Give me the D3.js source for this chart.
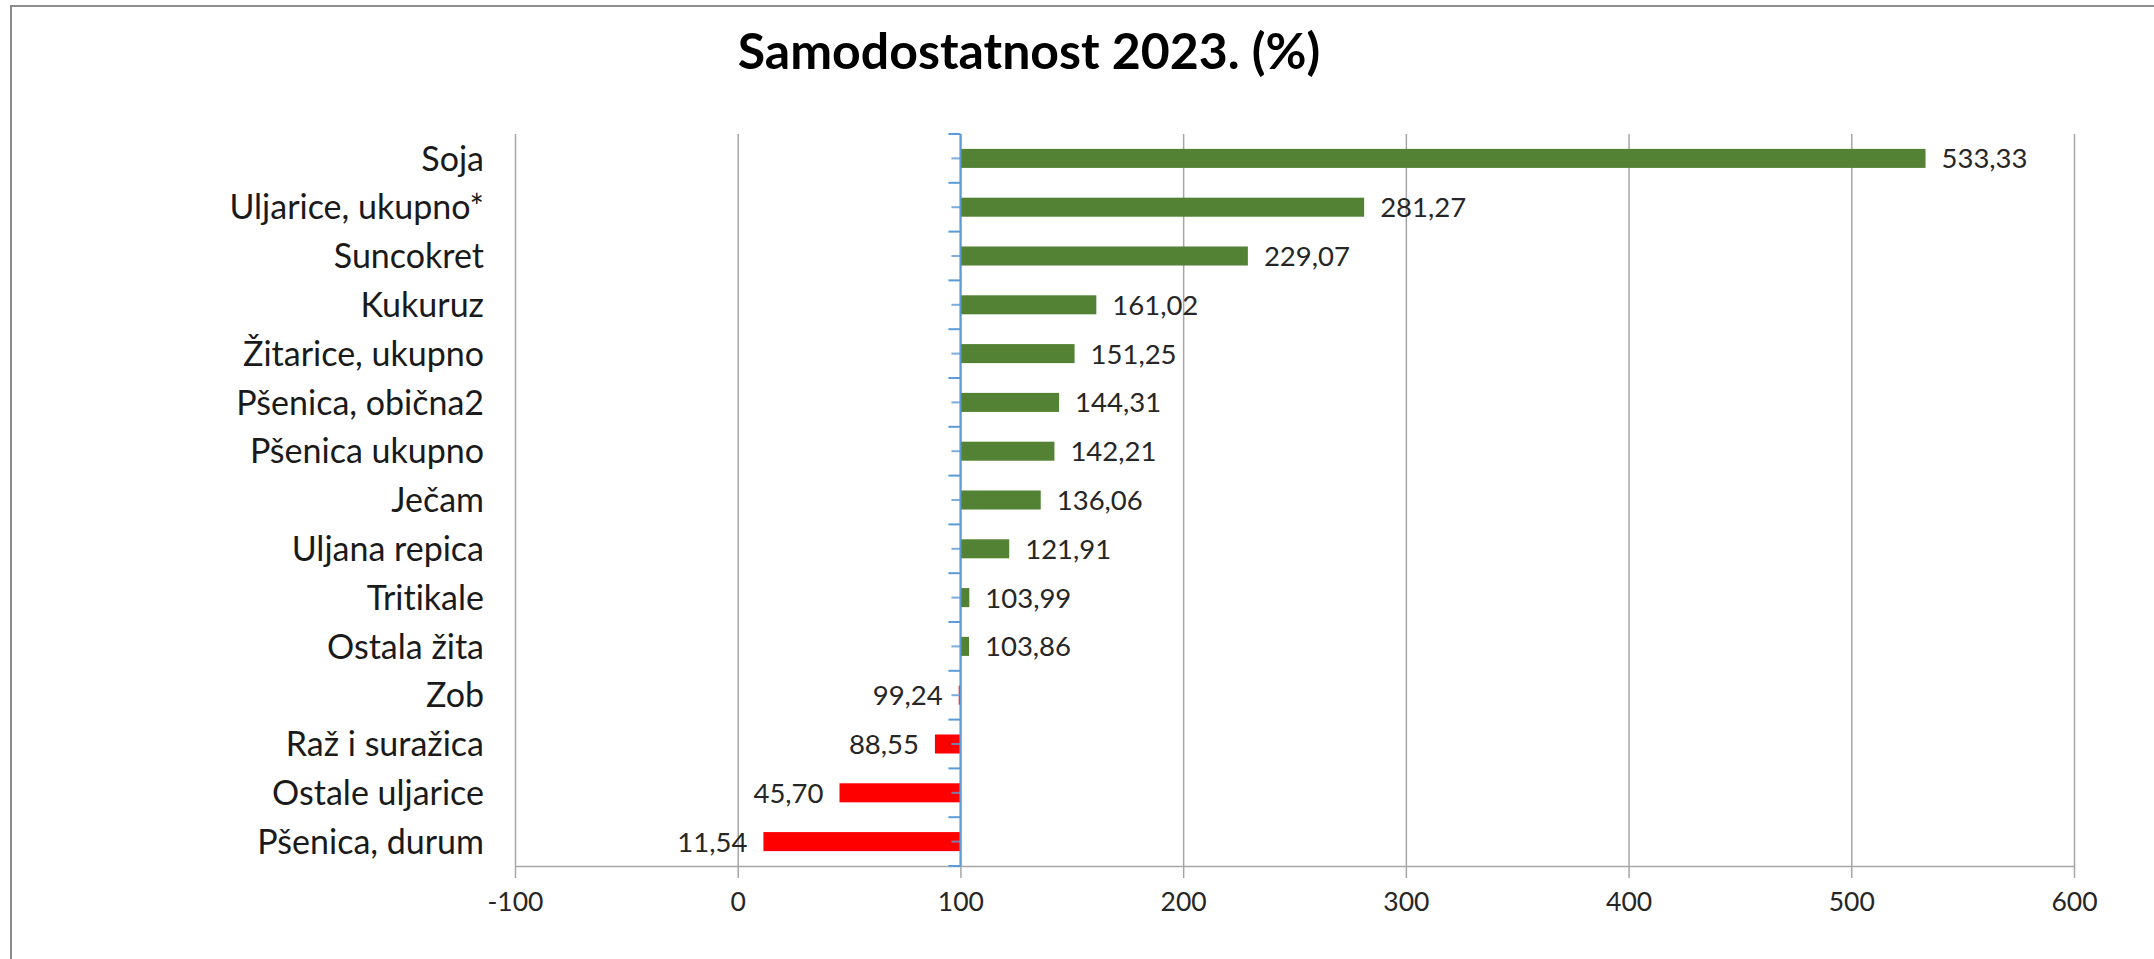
<!DOCTYPE html>
<meta charset="utf-8">
<style>
body { margin: 0; background: #fff; }
svg { display: block; }
svg text { font-family: Lato, sans-serif; font-variant-ligatures: none; }
.grid line { stroke: #a6a6a6; stroke-width: 1.5px; }
.grid path { display: none; }
.axis--x path, .axis--x line { stroke: #a6a6a6; stroke-width: 1.5px; }
.axis--x text { font-size: 26.5px; fill: #262626; }
.cat { font-size: 34px; fill: #1a1a1a; }
.val { font-size: 27.5px; fill: #262626; }
</style>
<svg width="2154" height="959"></svg>
<script src="https://cdnjs.cloudflare.com/ajax/libs/d3/7.8.5/d3.min.js"></script>
<script>

// categories top to bottom
var categories = ["Soja", "Uljarice, ukupno*", "Suncokret", "Kukuruz", "Žitarice, ukupno",
  "Pšenica, obična2", "Pšenica ukupno", "Ječam", "Uljana repica", "Tritikale",
  "Ostala žita", "Zob", "Raž i suražica", "Ostale uljarice", "Pšenica, durum"];
var values = [533.33, 281.27, 229.07, 161.02, 151.25, 144.31, 142.21, 136.06, 121.91,
  103.99, 103.86, 99.24, 88.55, 45.70, 11.54];
var labels = ["533,33", "281,27", "229,07", "161,02", "151,25", "144,31", "142,21", "136,06",
  "121,91", "103,99", "103,86", "99,24", "88,55", "45,70", "11,54"];
var xTicks = [-100, 0, 100, 200, 300, 400, 500, 600];
var baseline = 100;

var svg = d3.select("svg"),
    plotLeft = 515, plotRight = 2074, plotTop = 134, plotBottom = 866;

// outer chart frame (runs past the right and bottom edge)
svg.append("rect")
    .attr("x", 11).attr("y", 6)
    .attr("width", 2200).attr("height", 1000)
    .attr("fill", "none")
    .attr("stroke", "#8c8c8c")
    .attr("stroke-width", 2);

var x = d3.scaleLinear().domain([-100, 600]).range([plotLeft, plotRight]);
var y = d3.scaleBand().domain(categories).range([plotTop, plotBottom])
    .paddingInner(0.61).paddingOuter(0.305);

// vertical gridlines
svg.append("g")
    .attr("class", "grid")
    .attr("transform", "translate(0," + plotTop + ")")
    .call(d3.axisBottom(x).tickValues(xTicks).tickSize(plotBottom - plotTop).tickFormat(""));

// x axis
svg.append("g")
    .attr("class", "axis axis--x")
    .attr("transform", "translate(0," + plotBottom + ")")
    .call(d3.axisBottom(x).tickValues(xTicks).tickSize(12).tickSizeOuter(0).tickPadding(14)
      .tickFormat(function(d) { return String(d); }))
    .selectAll("text").attr("dy", "0.71em");

// bars from the 100 baseline
var data = categories.map(function(c, i) { return {cat: c, v: values[i], label: labels[i]}; });

svg.selectAll(".bar")
    .data(data)
  .enter().append("rect")
    .attr("class", "bar")
    .attr("x", function(d) { return x(Math.min(d.v, baseline)); })
    .attr("y", function(d) { return y(d.cat); })
    .attr("width", function(d) { return Math.abs(x(d.v) - x(baseline)); })
    .attr("height", y.bandwidth())
    .attr("fill", function(d) { return d.v >= baseline ? "#548235" : "#ff0000"; });

// value labels
svg.selectAll(".val")
    .data(data)
  .enter().append("text")
    .attr("class", "val")
    .attr("x", function(d) { return d.v >= baseline ? x(d.v) + 16 : x(d.v) - 16; })
    .attr("y", function(d) { return y(d.cat) + y.bandwidth() / 2; })
    .attr("dy", "0.36em")
    .attr("text-anchor", function(d) { return d.v >= baseline ? "start" : "end"; })
    .text(function(d) { return d.label; });

// category axis at 100
var ax = svg.append("g").attr("transform", "translate(" + x(baseline) + ",0)");
ax.append("line")
    .attr("y1", plotTop).attr("y2", plotBottom)
    .attr("stroke", "#5b9bd5").attr("stroke-width", 2);

var bounds = d3.range(categories.length + 1).map(function(i) {
  return plotTop + i * (plotBottom - plotTop) / categories.length;
});
ax.selectAll(".bt")
    .data(bounds)
  .enter().append("line")
    .attr("x1", -12).attr("x2", 0)
    .attr("y1", function(d) { return d; }).attr("y2", function(d) { return d; })
    .attr("stroke", "#5b9bd5").attr("stroke-width", 2);
ax.selectAll(".ct")
    .data(categories)
  .enter().append("line")
    .attr("x1", -9).attr("x2", 0)
    .attr("y1", function(d) { return y(d) + y.bandwidth() / 2; })
    .attr("y2", function(d) { return y(d) + y.bandwidth() / 2; })
    .attr("stroke", "#5b9bd5").attr("stroke-width", 2).attr("opacity", 0.8);

// category names
svg.selectAll(".cat")
    .data(categories)
  .enter().append("text")
    .attr("class", "cat")
    .attr("x", plotLeft - 31)
    .attr("y", function(d) { return y(d) + y.bandwidth() / 2; })
    .attr("dy", "0.36em")
    .attr("text-anchor", "end")
    .text(function(d) { return d; });

// title
svg.append("text")
    .attr("x", 1029)
    .attr("y", 51)
    .attr("dy", "0.36em")
    .attr("text-anchor", "middle")
    .style("font-size", "50px")
    .style("font-weight", "bold")
    .style("fill", "#000")
    .text("Samodostatnost 2023. (%)");

</script>
